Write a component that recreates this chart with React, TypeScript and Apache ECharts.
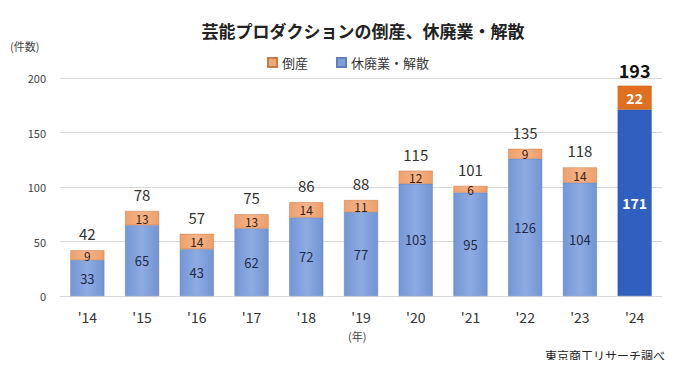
import React, { useEffect, useRef } from "react";
import * as echarts from "echarts";

const years = ["'14", "'15", "'16", "'17", "'18", "'19", "'20", "'21", "'22", "'23", "'24"];
const bankruptcies = [9, 13, 14, 13, 14, 11, 12, 6, 9, 14, 22];
const closures = [33, 65, 43, 62, 72, 77, 103, 95, 126, 104, 171];
const totals = [42, 78, 57, 75, 86, 88, 115, 101, 135, 118, 193];
const yTicks = [0, 50, 100, 150, 200];

const FONT = "'Noto Sans CJK JP', 'Noto Sans', sans-serif";

export default function App() {
  const ref = useRef<HTMLDivElement>(null);
  useEffect(() => {
    if (!ref.current) return;
    const chart = echarts.init(ref.current, null, { renderer: "svg" });
    const last = years.length - 1;
    const blueGrad = new echarts.graphic.LinearGradient(0, 0, 1, 0, [
      { offset: 0, color: "#7396d6" },
      { offset: 0.5, color: "#8eabe2" },
      { offset: 1, color: "#7194d4" },
    ]);
    const orangeGrad = new echarts.graphic.LinearGradient(0, 0, 1, 0, [
      { offset: 0, color: "#eea06c" },
      { offset: 0.5, color: "#f4b48a" },
      { offset: 1, color: "#ec9d68" },
    ]);
    chart.setOption({
      animation: false,
      textStyle: { fontFamily: FONT },
      title: {
        text: "芸能プロダクションの倒産、休廃業・解散",
        left: 358,
        textAlign: "center",
        top: 17,
        textStyle: { fontSize: 17, fontWeight: "bold", color: "#222", fontFamily: FONT },
      },
      legend: {
        data: ["倒産", "休廃業・解散"],
        top: 51,
        left: 262,
        itemWidth: 9,
        itemHeight: 9,
        itemGap: 28,
        icon: "rect",
        textStyle: { fontSize: 13, color: "#333", fontFamily: FONT },
      },
      grid: { left: 60, right: 11, top: 78, bottom: 72 },
      xAxis: {
        type: "category",
        data: years,
        axisLine: { lineStyle: { color: "#d9d9d9" } },
        axisTick: { show: false },
        axisLabel: { fontSize: 14, color: "#333", margin: 14, fontFamily: FONT },
      },
      yAxis: {
        type: "value",
        min: 0,
        max: 200,
        interval: 50,
        axisLine: { show: false },
        axisTick: { show: false },
        splitLine: { lineStyle: { color: "#d9d9d9" } },
        axisLabel: {
          fontSize: 11,
          color: "#444",
          margin: 14,
          fontFamily: FONT,
          formatter: (v: number) => (yTicks.includes(v) ? String(v) : ""),
        },
      },
      series: [
        {
          name: "休廃業・解散",
          type: "bar",
          stack: "t",
          barWidth: 34,
          itemStyle: { color: "#7f9fdb", borderColor: "#5f7fbf", borderWidth: 0.5 },
          data: closures.map((v, i) =>
            i === last
              ? {
                  value: v,
                  itemStyle: { color: "#2f5fbf", borderColor: "#2a54aa" },
                  label: { color: "#fff", fontWeight: "bold", fontSize: 14 },
                }
              : { value: v, itemStyle: { color: blueGrad } }
          ),
          label: {
            show: true,
            position: "inside",
            fontSize: 13,
            color: "#1f2a4a",
            fontFamily: FONT,
          },
        },
        {
          name: "倒産",
          type: "bar",
          stack: "t",
          barWidth: 34,
          itemStyle: { color: "#f0a878", borderColor: "#c97a45", borderWidth: 0.5 },
          data: bankruptcies.map((v, i) =>
            i === last
              ? {
                  value: v,
                  itemStyle: { color: "#e07020", borderColor: "#c46018" },
                  label: { color: "#fff", fontWeight: "bold", fontSize: 14 },
                }
              : { value: v, itemStyle: { color: orangeGrad } }
          ),
          label: {
            show: true,
            position: "inside",
            fontSize: 12,
            lineHeight: 12,
            color: "#3a1e10",
            fontFamily: FONT,
          },
        },
        {
          name: "合計",
          type: "bar",
          stack: "t",
          barWidth: 34,
          itemStyle: { color: "transparent" },
          data: totals.map((t, i) => ({
            value: 0,
            label:
              i === last
                ? { fontWeight: "bold", fontSize: 18, color: "#111", distance: 8 }
                : {},
          })),
          label: {
            show: true,
            position: "top",
            distance: 9,
            fontSize: 15,
            lineHeight: 15,
            color: "#333",
            fontFamily: FONT,
            formatter: (p: any) => String(totals[p.dataIndex]),
          },
        },
      ],
      graphic: [
        {
          type: "text",
          left: 10,
          top: 40,
          style: { text: "(件数)", fill: "#444", font: `11px ${FONT}` },
        },
        {
          type: "text",
          left: 348,
          top: 330,
          style: { text: "(年)", fill: "#444", font: `11px ${FONT}` },
        },
        {
          type: "text",
          right: 8,
          top: 349,
          style: { text: "東京商工リサーチ調べ", fill: "#222", font: `12px ${FONT}` },
        },
      ],
    });
    return () => chart.dispose();
  }, []);
  return <div ref={ref} style={{ width: 673, height: 368, margin: -8 }} />;
}
